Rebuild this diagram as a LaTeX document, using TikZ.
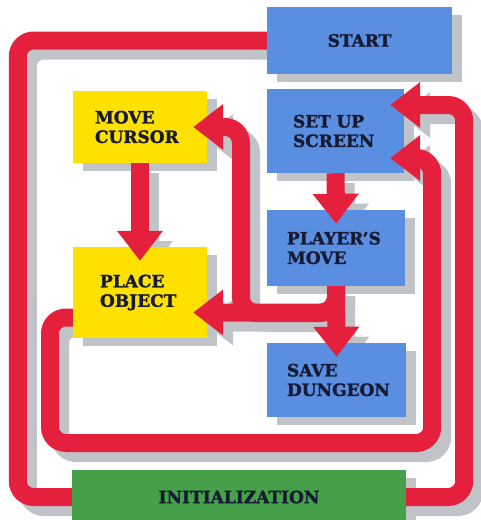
\documentclass[tikz,border=0pt]{standalone}
\usepackage{fontspec}
\setmainfont{DejaVu Serif}[BoldFeatures={FakeBold=1.5}]
\usetikzlibrary{arrows.meta,shadows}
\definecolor{boxblue}{HTML}{5A8EE0}
\definecolor{boxyellow}{HTML}{FFE100}
\definecolor{boxgreen}{HTML}{45A04A}
\definecolor{linkred}{HTML}{E5203C}
\definecolor{shadowgrey}{HTML}{C0C3C8}
\definecolor{labelink}{HTML}{161A33}
\pgfdeclarelayer{back}
\pgfdeclarelayer{front}
\pgfsetlayers{back,main,front}
\tikzstyle{box} = [rectangle, inner ysep=0pt, align=left, text=labelink, font=\bfseries\fontsize{17}{19.5}\selectfont, drop shadow={shadow xshift=10pt, shadow yshift=-8pt, fill=shadowgrey, opacity=1}]
\tikzstyle{bluebox} = [box, fill=boxblue]
\tikzstyle{yellowbox} = [box, fill=boxyellow]
\tikzstyle{greenbox} = [box, fill=boxgreen]
\tikzstyle{link} = [line width=18pt, draw=linkred, rounded corners=16pt]
\tikzstyle{arrow} = [-{Triangle[width=44pt,length=30pt]}, shorten >=-14pt]
% all connectors, drawn once as shadow and once in red
\newcommand{\flowlinks}[1]{%
  \draw [#1] (start.west) -| ([xshift=-54pt]init.west) -- (init.west);
  \draw [#1, arrow] (init.east) -| ([xshift=60pt,yshift=26pt]setup.east) -- ([yshift=26pt]setup.east);
  \draw [#1, arrow] ([yshift=-25pt]place.west) -| (50,443) -| ([xshift=28pt,yshift=-27pt]setup.east) -- ([yshift=-27pt]setup.east);
  \draw [#1, arrow] (cursor.south) -- (place.north);
  \draw [#1, arrow] (setup.south) -- (player.north);
  \draw [#1, arrow] (player.south) -- (save.north);
  \draw [#1, arrow] (player.south) |- ([yshift=-20pt]place.east);
  \draw [#1, arrow] (player.south) |- (241,313) |- (cursor.east);
}
\begin{document}
\begin{tikzpicture}[x=1pt, y=-1pt]
\useasboundingbox (0,0) rectangle (480,520);

\node (start) [bluebox, minimum width=185pt, minimum height=67pt, align=center] at (359.5,40.5) {START};
\node (setup) [bluebox, minimum height=84pt, inner xsep=26pt, text width=85pt] at (335.5,131) {SET UP\\SCREEN};
\node (cursor) [yellowbox, minimum height=72pt, inner xsep=22pt, text width=90pt] at (140,127) {MOVE\\CURSOR};
\node (player) [bluebox, minimum height=76pt, inner xsep=20pt, text width=98pt] at (336,248) {PLAYER’S\\MOVE};
\node (place) [yellowbox, minimum height=91pt, inner xsep=27pt, text width=80pt] at (140,292.5) {PLACE\\OBJECT};
\node (save) [bluebox, minimum height=74pt, inner xsep=20pt, text width=99pt] at (336.5,380) {SAVE\\DUNGEON};
\node (init) [greenbox, minimum width=334pt, minimum height=54pt, align=center] at (239,497) {INITIALIZATION};

\begin{pgfonlayer}{back}
\begin{scope}[transform canvas={shift={(10pt,-10pt)}}]
\flowlinks{link, draw=shadowgrey}
\end{scope}
\end{pgfonlayer}

\begin{pgfonlayer}{front}
\flowlinks{link}
\end{pgfonlayer}

\end{tikzpicture}
\end{document}
